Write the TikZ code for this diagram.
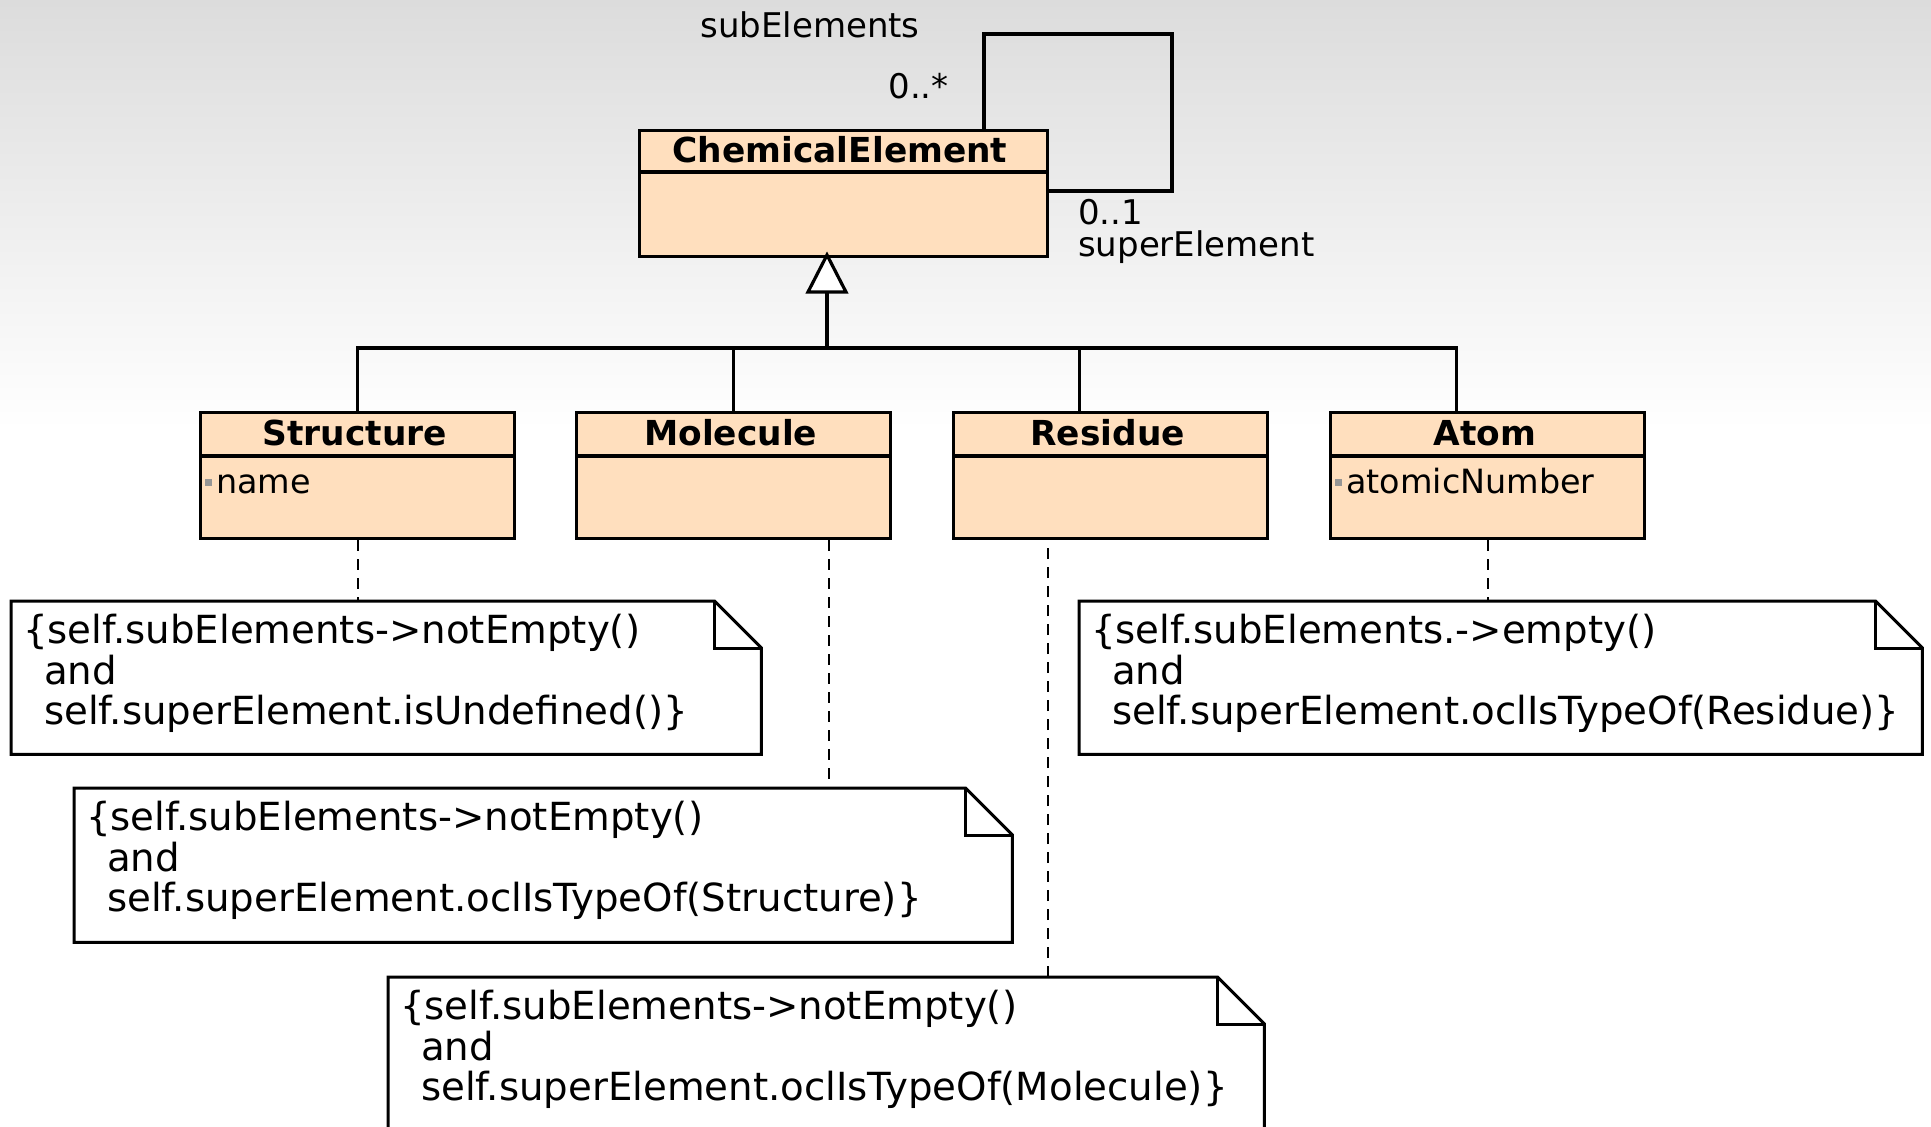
\documentclass[tikz,border=0pt]{standalone}
\usepackage{fontspec}
\setmainfont{DejaVu Sans}
\usetikzlibrary{calc}
\definecolor{boxfill}{RGB}{255,223,190}
\definecolor{bgtop}{RGB}{220,220,220}
\definecolor{attrsq}{RGB}{150,150,150}
\begin{document}
\begin{tikzpicture}[x=1pt,y=-1pt,
  cls/.style={draw=black, line width=3.4pt, fill=boxfill, rectangle, inner sep=0pt, anchor=north west},
  clstitle/.style={inner sep=0pt, anchor=base, font=\fontsize{34.4}{40}\selectfont\bfseries},
  attr/.style={inner sep=0pt, anchor=base west, font=\fontsize{33.4}{40}\selectfont},
  lbl/.style={inner sep=0pt, font=\fontsize{34}{40}\selectfont},
  notebg/.style={rectangle, fill=white, draw=none, inner sep=0pt, anchor=north west},
  noteline/.style={draw=black, line width=3pt, line join=miter},
  notetext/.style={inner sep=0pt, anchor=north west, align=left, font=\fontsize{38.7}{40.6}\selectfont},
  assoc/.style={draw=black, line width=3.2pt, line join=miter},
  dashline/.style={draw=black, line width=2.4pt, dash pattern=on 11pt off 8pt},
]
\useasboundingbox (0,0) rectangle (1931,1127);
\shade[top color=bgtop, bottom color=white] (0,0) rectangle (1931,430);

% superclass
\node[cls, minimum width=408, minimum height=126] (ce) at (638,129) {};
\draw[line width=3.4pt] (ce.west |- 0,172) -- (ce.east |- 0,172);
\node[clstitle] (cet) at (840,162) {ChemicalElement};

% self association
\coordinate (loopA) at (984,129);
\coordinate (loopB) at (1046,191);
\draw[assoc] (loopA) -- (984,34) -- (1172,34) -- (1172,191) -- (loopB);
\node[lbl, anchor=base] (lsub) at (810,37) {subElements};
\node[lbl, anchor=base east] (lmany) at (949,98) {0..*};
\node[lbl, anchor=base west] (lone) at (1078,224) {0..1};
\node[lbl, anchor=base west] (lsuper) at (1078,256) {superElement};

% subclasses
\foreach \nm/\x/\t in {structure/199/Structure, molecule/575/Molecule, residue/952/Residue, atom/1329/Atom}{
  \node[cls, minimum width=314, minimum height=126] (\nm) at (\x,411) {};
  \draw[line width=3.4pt] (\nm.west |- 0,456) -- (\nm.east |- 0,456);
  \node[clstitle] (\nm-t) at ($(\nm.north)+(-3,34)$) {\t};
}
\fill[attrsq] (205,479) rectangle (212,486);
\node[attr] (sname) at (216,493) {name};
\fill[attrsq] (1335,479) rectangle (1342,486);
\node[attr] (anum) at (1346,493) {atomicNumber};

% generalization
\coordinate (gtip) at (827,255);
\coordinate (gbase) at (827,292);
\coordinate (bus) at (827,348);
\draw[assoc, fill=white] (gtip) -- ++(-19,37) -- ++(38,0) -- cycle;
\draw[assoc] (gbase) -- (bus);
\coordinate (resTop) at ($(residue.north)+(-31,0)$);
\coordinate (atomTop) at ($(atom.north)+(-31,0)$);
\draw[assoc] (structure.north) -- (structure.north |- bus) -- (atomTop |- bus) -- (atomTop);
\draw[assoc] (molecule.north) -- (molecule.north |- bus);
\draw[assoc] (resTop) -- (resTop |- bus);

% notes
\node[notebg, minimum width=750, minimum height=153] (n1) at (11,601) {};
\node[notebg, minimum width=938, minimum height=154] (n2) at (74,788) {};
\node[notebg, minimum width=876, minimum height=170] (n3) at (388,977) {};
\node[notebg, minimum width=843, minimum height=153] (n4) at (1079,601) {};
\foreach \n in {n1,n2,n3,n4}{
  \draw[noteline] ($(\n.north east)+(-47,0)$) -- (\n.north west) -- (\n.south west) -- (\n.south east) -- ($(\n.north east)+(0,47)$) -- cycle;
  \draw[noteline] ($(\n.north east)+(-47,0)$) -- ++(0,47) -- ++(47,0);
}
\node[notetext] (n1t) at ($(n1.north west)+(12,13)$) {\{self.subElements->notEmpty()\\\hspace*{21pt}and\\\hspace*{21pt}self.superElement.isUndefined()\}};
\node[notetext] (n2t) at ($(n2.north west)+(12,13)$) {\{self.subElements->notEmpty()\\\hspace*{21pt}and\\\hspace*{21pt}self.superElement.oclIsTypeOf(Structure)\}};
\node[notetext] (n3t) at ($(n3.north west)+(12,13)$) {\{self.subElements->notEmpty()\\\hspace*{21pt}and\\\hspace*{21pt}self.superElement.oclIsTypeOf(Molecule)\}};
\node[notetext] (n4t) at ($(n4.north west)+(12,13)$) {\{self.subElements.->empty()\\\hspace*{21pt}and\\\hspace*{21pt}self.superElement.oclIsTypeOf(Residue)\}};

% note anchors
\draw[dashline] (structure.south) -- (structure.south |- n1.north);
\coordinate (molNote) at ($(molecule.south)+(95,0)$);
\draw[dashline] (molNote) -- (molNote |- n2.north);
\coordinate (resNote) at ($(residue.south)+(-63,0)$);
\draw[dashline] (resNote |- n3.north) -- (resNote);
\draw[dashline] (atom.south) -- (atom.south |- n4.north);
\end{tikzpicture}
\end{document}
